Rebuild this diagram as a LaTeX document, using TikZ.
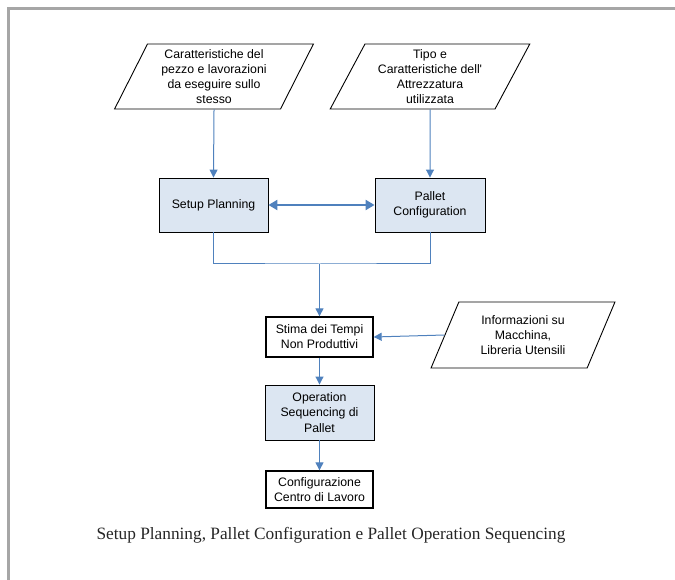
\documentclass[tikz,border=0pt]{standalone}
\usepackage{fontspec}
\setmainfont{Liberation Serif}
\newfontfamily\arialf{Liberation Sans}
\usetikzlibrary{shapes.geometric,arrows.meta}
\definecolor{flowblue}{HTML}{4F81BD}
\definecolor{boxfill}{HTML}{DCE6F2}
\definecolor{framegray}{HTML}{A6A6A6}
\tikzset{
  every node/.style={font=\arialf\fontsize{12.3}{15.2}\selectfont, align=center, inner sep=0pt},
  para/.style={draw=black, line width=0.9pt, fill=white, shape=trapezium, trapezium stretches=true,
    trapezium left angle=#1, trapezium right angle=180-#1},
  bluebox/.style={draw=black, line width=0.9pt, fill=boxfill, minimum width=109, minimum height=55},
  whitebox/.style={draw=black, line width=1.3pt, fill=white, minimum width=107},
  flow/.style={draw=flowblue, line width=1pt, -{Triangle[length=8pt,width=8pt]}},
  plainflow/.style={draw=flowblue, line width=1pt},
  dblflow/.style={draw=flowblue, line width=2.2pt, {Triangle[length=9pt,width=10pt]}-{Triangle[length=9pt,width=10pt]}},
}
\begin{document}
\begin{tikzpicture}[x=1pt,y=-1pt]
\useasboundingbox (0,0) rectangle (675,580);
\draw[framegray, line width=3pt] (8.5,580) -- (8.5,8.5) -- (675,8.5);

\node[para=64.5, minimum width=199, minimum height=65] (in1) at (214,76.5)
  {Caratteristiche del\\pezzo e lavorazioni\\da eseguire sullo\\stesso};
\node[para=63, minimum width=200, minimum height=65] (in2) at (430,76.5)
  {Tipo e\\Caratteristiche dell'\\Attrezzatura\\utilizzata};
\node[para=65, minimum width=184, minimum height=66] (in3) at (523,335)
  {Informazioni su\\Macchina,\\Libreria Utensili};

\node[bluebox, minimum width=109, minimum height=54] (sp) at (213.5,205) {Setup Planning};
\node[bluebox, minimum width=110, minimum height=54] (pc) at (430,205) {Pallet\\Configuration};
\node[whitebox, minimum height=40] (st) at (319.5,337) {Stima dei Tempi\\Non Produttivi};
\node[bluebox, minimum width=109, minimum height=55] (os) at (319.5,412.5) {Operation\\Sequencing di\\Pallet};
\node[whitebox, minimum height=37] (cf) at (319.5,489.5) {Configurazione\\Centro di Lavoro};

\coordinate (j) at (319.5,264);

\draw[flow] (in1.south) -- (sp.north);
\draw[flow] (in2.south) -- (pc.north);
\draw[dblflow] (sp.east) -- (pc.west);
\draw[plainflow] (sp.south) |- (j) -| (pc.south);
\draw[flow] (j) -- (st.north);
\draw[flow] (in3.west) -- (st.east);
\draw[flow] (st.south) -- (os.north);
\draw[flow] (os.south) -- (cf.north);

\node[font=\rmfamily\fontsize{17.3}{20}\selectfont, text=black!85] (cap) at (331,535)
  {Setup Planning, Pallet Configuration e Pallet Operation Sequencing};
\end{tikzpicture}
\end{document}
